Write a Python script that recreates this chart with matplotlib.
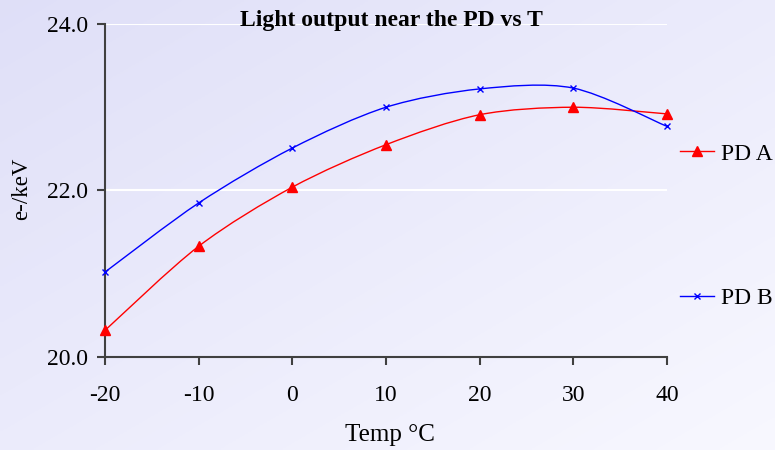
import numpy as np
import matplotlib.pyplot as plt
from matplotlib.path import Path
from matplotlib.patches import PathPatch

temps = [-20, -10, 0, 10, 20, 30, 40]
pd_a = [20.32, 21.33, 22.04, 22.55, 22.91, 23.00, 22.92]
pd_b = [21.02, 21.85, 22.51, 23.00, 23.22, 23.23, 22.77]
series_names = ["PD A", "PD B"]
y_ticks = [20.0, 22.0, 24.0]

plt.rcParams['font.family'] = ['Liberation Serif', 'DejaVu Serif']


def smooth_path(x, y, t=0.15):
    # excel-like smoothed line: cubic bezier through each point
    x = np.asarray(x, float)
    y = np.asarray(y, float)
    n = len(x)
    verts = [(x[0], y[0])]
    codes = [Path.MOVETO]
    for i in range(n - 1):
        p0 = np.array([x[max(i - 1, 0)], y[max(i - 1, 0)]])
        p1 = np.array([x[i], y[i]])
        p2 = np.array([x[i + 1], y[i + 1]])
        p3 = np.array([x[min(i + 2, n - 1)], y[min(i + 2, n - 1)]])
        c1 = p1 + (p2 - p0) * t
        c2 = p2 - (p3 - p1) * t
        verts += [tuple(c1), tuple(c2), tuple(p2)]
        codes += [Path.CURVE4] * 3
    return Path(verts, codes)


fig = plt.figure(figsize=(7.75, 4.5), dpi=100)

# background gradient, lavender top-left -> near white bottom-right
bg = fig.add_axes([0, 0, 1, 1], zorder=-10)
gx, gy = np.meshgrid(np.linspace(0, 1, 200), np.linspace(0, 1, 200))
g = (gx + gy) / 2
c0 = np.array([0.875, 0.875, 0.972])
c1 = np.array([0.972, 0.972, 1.0])
img = c0 + (c1 - c0) * g[..., None]
bg.imshow(img, aspect='auto', extent=[0, 1, 0, 1], origin='upper')
bg.axis('off')

ax = fig.add_axes([0.1355, 0.2067, 0.7251, 0.74])
ax.patch.set_alpha(0)

ax.add_patch(PathPatch(smooth_path(temps, pd_a), facecolor='none', edgecolor='red', lw=1, zorder=3))
ax.add_patch(PathPatch(smooth_path(temps, pd_b), facecolor='none', edgecolor='blue', lw=1, zorder=3))
ax.plot(temps, pd_a, linestyle='none', marker='^', color='red', ms=7, zorder=4, clip_on=False)
ax.plot(temps, pd_b, linestyle='none', marker='x', color='blue', ms=5, mew=1, zorder=4, clip_on=False)

# legend handles
ax.plot([], [], color='red', marker='^', ms=7, lw=1, label=series_names[0])
ax.plot([], [], color='blue', marker='x', ms=5, lw=1, label=series_names[1])
h, l = ax.get_legend_handles_labels()
fig.legend(h[-2:], l[-2:], loc='center left', bbox_to_anchor=(0.8775, 0.498), frameon=False,
           fontsize=17, labelspacing=5.2, handlelength=1.45, handletextpad=0.3,
           borderaxespad=0, borderpad=0)

ax.set_xlim(-20, 40)
ax.set_ylim(20, 24)
ax.set_xticks(temps)
ax.set_xticklabels([str(t) for t in temps])
ax.set_yticks(y_ticks)
ax.set_yticklabels([f"{v:.1f}" for v in y_ticks])
ax.grid(axis='y', color='white', lw=1.5)
ax.set_axisbelow(True)
for s in ['top', 'right']:
    ax.spines[s].set_visible(False)
for s in ['left', 'bottom']:
    ax.spines[s].set_color('#404040')
    ax.spines[s].set_linewidth(1.5)
ax.tick_params(axis='both', direction='out', length=6, width=1.5, color='#404040',
               labelsize=17)
ax.tick_params(axis='x', pad=14)
ax.tick_params(axis='y', pad=6)

ax.set_xlabel("Temp °C", fontsize=18)
ax.xaxis.set_label_coords(0.507, -0.234)
ax.xaxis.label.set_va('center')
ax.set_ylabel("e-/keV", fontsize=16.5)
ax.yaxis.set_label_coords(-0.148, 0.505)
ax.yaxis.label.set_va('center')
fig.text(0.505, 0.955, "Light output near the PD vs T", ha='center', va='center',
         fontsize=17, fontweight='bold')

fig.savefig("out.png", dpi=100)
